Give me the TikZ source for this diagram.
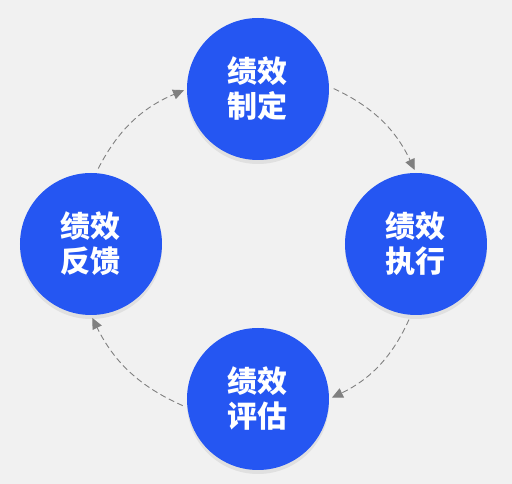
\documentclass[tikz,border=0pt]{standalone}
\usepackage{fontspec}
\newfontfamily\cjk{Noto Sans CJK SC}[BoldFont={Noto Sans CJK SC Black}]
\usepackage{tikz}
\usetikzlibrary{arrows.meta,shadows}
\definecolor{stageblue}{HTML}{2556F2}
\definecolor{backgray}{HTML}{F1F1F1}
\tikzstyle{stage} = [circle, fill=stageblue, text=white, minimum size=142pt,
    inner sep=0pt, align=center, font=\cjk\bfseries\fontsize{30}{35}\selectfont,
    drop shadow={shadow xshift=0pt, shadow yshift=-4pt, opacity=0.15}]
\tikzstyle{line} = [draw, color=gray, line width=0.9pt, dash pattern=on 6pt off 3.5pt,
    -{Triangle[length=11pt,width=10pt]}, shorten <=5pt, shorten >=3pt]
\begin{document}
\begin{tikzpicture}[x=1pt,y=1pt]

    \fill [backgray] (-255,-240) rectangle (257,244);
    \useasboundingbox (-255,-240) rectangle (257,244);

    \coordinate (o) at (0,0);
    \node [stage, node distance=155pt, above of=o, xshift=3pt] (plan) {绩效\\制定};
    \node [stage, node distance=161pt, right of=o] (exec) {绩效\\执行};
    \node [stage, node distance=155pt, below of=o, xshift=3pt] (eval) {绩效\\评估};
    \node [stage, node distance=164pt, left of=o] (feed) {绩效\\反馈};

    % Draw edges
    \path [line] (plan.2) to[bend left=20] (exec.north);
    \path [line] (exec.-94) to[bend left=20] (eval.east);
    \path [line] (eval.-173) to[bend left=20] (feed.south);
    \path [line] (feed.86) to[bend left=20] (plan.west);

\end{tikzpicture}
\end{document}
